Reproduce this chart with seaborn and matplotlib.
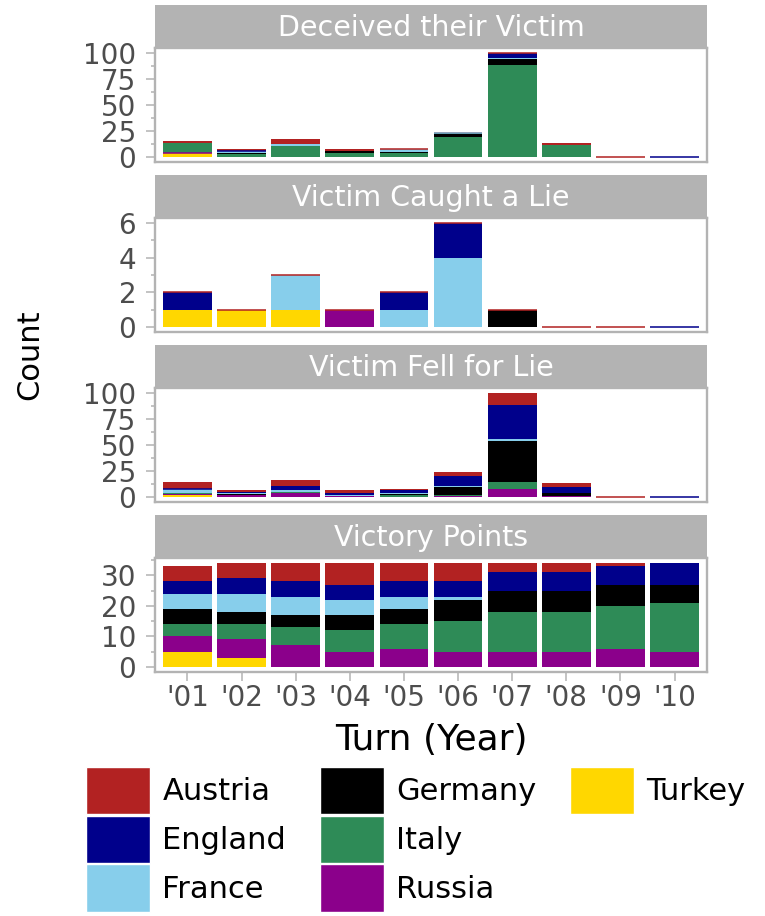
import pandas as pd
import matplotlib.pyplot as plt
import seaborn as sns
from matplotlib.patches import Patch

# turns on the x axis
turns = [1, 2, 3, 4, 5, 6, 7, 8, 9, 10]
turn_labels = ["'01", "'02", "'03", "'04", "'05", "'06", "'07", "'08", "'09", "'10"]

# stacking goes bottom -> top in reverse of this order (Austria on top)
countries = ['Austria', 'England', 'France', 'Germany', 'Italy', 'Russia', 'Turkey']
colors = ['#B22222', '#00008B', '#87CEEB', '#000000', '#2E8B57', '#8B008B', '#FFD700']

N = None  # no row for that country/turn; 0 = row with zero count

deceived = {
    'Austria': [2, 2, 5, 2, 0, 1, 0, 2, 0, N],
    'England': [N, 0, N, N, N, N, 5, N, N, 0],
    'France':  [N, 2, 2, N, 3, 0, 1, N, N, N],
    'Germany': [N, 1, N, 2, 1, 4, 5, N, N, N],
    'Italy':   [9, 3, 10, 4, 4, 19, 89, 11, N, N],
    'Russia':  [0, N, N, N, N, N, N, N, N, N],
    'Turkey':  [4, N, N, N, N, N, N, N, N, N],
}

caught = {
    'Austria': [0, 0, 0, 0, 0, 0, 0, 0, 0, N],
    'England': [1, N, N, N, 1, 2, N, N, N, 0],
    'France':  [N, N, 2, N, 1, 4, N, N, N, N],
    'Germany': [N, N, N, N, N, N, 1, N, N, N],
    'Italy':   [N, N, N, N, N, N, N, N, N, N],
    'Russia':  [N, N, N, 1, N, N, N, N, N, N],
    'Turkey':  [1, 1, 1, N, N, N, N, N, N, N],
}

fell = {
    'Austria': [6, 2, 6, 3, 1, 4, 11, 4, 0, N],
    'England': [0, 1, 3, 2, 3, 10, 33, 5, N, 0],
    'France':  [4, 1, 2, 1, 1, 1, 2, N, N, N],
    'Germany': [N, 1, N, N, 1, 7, 40, 3, N, N],
    'Italy':   [1, N, 1, N, 2, 1, 6, N, N, N],
    'Russia':  [1, 2, 4, 1, N, 1, 8, 1, N, N],
    'Turkey':  [2, N, N, N, N, N, N, N, N, N],
}

victory = {
    'Austria': [5, 5, 6, 7, 6, 6, 3, 3, 1, N],
    'England': [4, 5, 5, 5, 5, 5, 6, 6, 6, 7],
    'France':  [5, 6, 6, 5, 4, 1, N, N, N, N],
    'Germany': [5, 4, 4, 5, 5, 7, 7, 7, 7, 6],
    'Italy':   [4, 5, 6, 7, 8, 10, 13, 13, 14, 16],
    'Russia':  [5, 6, 7, 5, 6, 5, 5, 5, 6, 5],
    'Turkey':  [5, 3, N, N, N, N, N, N, N, N],
}

panels = [
    ('Deceived their Victim', deceived, [0, 25, 50, 75, 100], [12.5, 37.5, 62.5, 87.5]),
    ('Victim Caught a Lie', caught, [0, 2, 4, 6], [1, 3, 5]),
    ('Victim Fell for Lie', fell, [0, 25, 50, 75, 100], [12.5, 37.5, 62.5, 87.5]),
    ('Victory Points', victory, [0, 10, 20, 30], [5, 15, 25, 35]),
]

sns.set_style('white')
plt.rcParams['font.family'] = ['DejaVu Sans']

palette = dict(zip(countries, colors))
grey = '#B3B3B3'
tick_text = '#4D4D4D'

W, H = 765, 916
fig = plt.figure(figsize=(W / 100, H / 100), dpi=100)


def box(x0, y0, x1, y1):
    return [x0 / W, 1 - y1 / H, (x1 - x0) / W, (y1 - y0) / H]


for i, (title, data, major, minor) in enumerate(panels):
    top = 5 + 170 * i

    # facet strip
    sax = fig.add_axes(box(155, top, 707, top + 43))
    sax.set_facecolor(grey)
    sax.set_xticks([])
    sax.set_yticks([])
    for s in sax.spines.values():
        s.set_visible(False)
    sax.text(0.5, 0.47, title, ha='center', va='center', color='white',
             fontsize=20.5, transform=sax.transAxes)

    ax = fig.add_axes(box(155, top + 43, 707, top + 157))

    rows = []
    for c in countries:
        for t, v in zip(turns, data[c]):
            if v is not None:
                rows.append({'turn': t, 'country': c, 'count': v})
    df = pd.DataFrame(rows)

    sns.histplot(data=df, x='turn', hue='country', weights='count',
                 multiple='stack', discrete=True, shrink=0.9,
                 hue_order=countries, palette=palette, linewidth=0,
                 alpha=1, legend=False, ax=ax)

    # rows with a zero count show up as a thin line at their stack position
    for k, c in enumerate(countries):
        below = countries[k + 1:]
        for j, t in enumerate(turns):
            if data[c][j] == 0:
                base = sum(data[b][j] or 0 for b in below)
                ax.bar(t, 0, bottom=base, width=0.9, color=palette[c],
                       edgecolor=palette[c], linewidth=1.1)

    totals = [sum(data[c][j] or 0 for c in countries) for j in range(len(turns))]
    m = max(totals)
    ax.set_xlim(0.4, 10.6)
    ax.set_ylim(-0.05 * m, 1.05 * m)

    ax.set_yticks(major)
    ax.set_yticks(minor, minor=True)
    ax.tick_params(axis='y', which='major', length=6.5, width=1.1, color=grey,
                   labelsize=20, labelcolor=tick_text, pad=7, left=True)
    ax.tick_params(axis='y', which='minor', length=3, width=1.1, color=grey, left=True)
    ax.set_ylabel('')

    for s in ax.spines.values():
        s.set_color(grey)
        s.set_linewidth(1.7)

    if i == len(panels) - 1:
        ax.set_xticks(turns)
        ax.set_xticklabels(turn_labels)
        ax.tick_params(axis='x', which='major', length=6.5, width=1.1, color=grey,
                       labelsize=20, labelcolor=tick_text, pad=2, bottom=True)
        ax.set_xlabel('Turn (Year)', fontsize=26, labelpad=8, color='black')
    else:
        ax.set_xticks([])
        ax.set_xlabel('')

fig.text(30 / W, 1 - 355 / H, 'Count', rotation=90, ha='center', va='center',
         fontsize=22, color='black')

handles = [Patch(facecolor=palette[c], label=c) for c in countries]
handles += [Patch(facecolor='none', edgecolor='none', label=''),
            Patch(facecolor='none', edgecolor='none', label='')]
fig.legend(handles=handles, loc='upper left', bbox_to_anchor=(86 / W, 1 - 767 / H),
           ncol=3, frameon=False, fontsize=22, handlelength=2.1, handleheight=2.0,
           handletextpad=0.4, columnspacing=1.1, labelspacing=0.05,
           borderpad=0, borderaxespad=0, labelcolor='black')

fig.savefig('out.png', dpi=100)
